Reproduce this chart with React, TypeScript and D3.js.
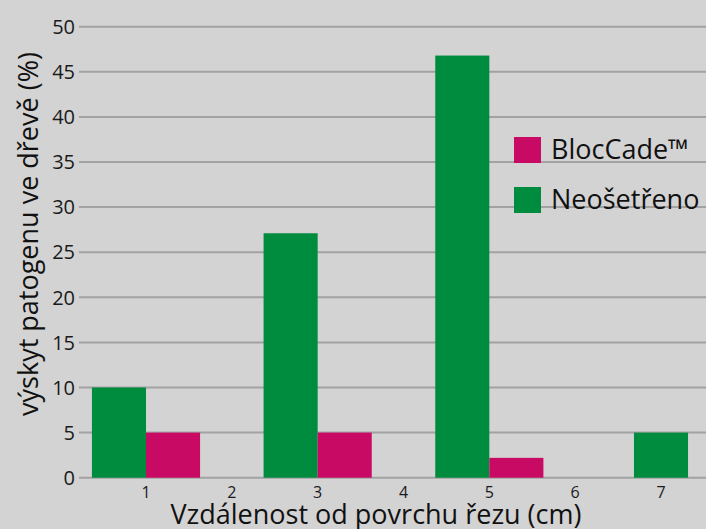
import React, { useRef, useEffect } from 'react';
import * as d3 from 'd3';

const distances = [1, 2, 3, 4, 5, 6, 7];
const blocCade = [5, 0, 5, 0, 2.2, 0, 0];
const neosetreno = [10, 0, 27.1, 0, 46.8, 0, 5];
const yTicks = [0, 5, 10, 15, 20, 25, 30, 35, 40, 45, 50];
const seriesNames = ['BlocCade™', 'Neošetřeno'];

const GREEN = '#008c3e';
const MAGENTA = '#c80a64';
const FONT = '"Open Sans", "Noto Sans", sans-serif';

const App: React.FC = () => {
  const svgRef = useRef<SVGSVGElement | null>(null);

  useEffect(() => {
    const width = 706;
    const height = 529;
    const svg = d3.select(svgRef.current);
    svg.selectAll('*').remove();
    svg.attr('width', width).attr('height', height);

    svg.append('rect').attr('width', width).attr('height', height).attr('fill', '#d3d3d3');

    const y = d3.scaleLinear().domain([0, 50]).range([477.7, 26.7]);
    const x = d3.scaleLinear().domain([1, 7]).range([146, 661]);
    const step = x(2) - x(1);
    const barW = step * 0.63;

    // gridlines + y labels
    const grid = svg.append('g');
    grid
      .selectAll('line')
      .data(yTicks)
      .enter()
      .append('line')
      .attr('x1', 79)
      .attr('x2', width)
      .attr('y1', (d) => y(d))
      .attr('y2', (d) => y(d))
      .attr('stroke', '#a2a2a2')
      .attr('stroke-width', 2);
    grid
      .selectAll('text')
      .data(yTicks)
      .enter()
      .append('text')
      .attr('x', 75)
      .attr('y', (d) => y(d))
      .attr('dy', '0.36em')
      .attr('text-anchor', 'end')
      .attr('font-family', FONT)
      .attr('font-size', 20)
      .attr('fill', '#1a1a1a')
      .text((d) => d);

    // bars: nonzero bars in each category are grouped and centred on the tick
    const rows = distances.map((d, i) => {
      const vals = [
        { v: neosetreno[i], color: GREEN },
        { v: blocCade[i], color: MAGENTA },
      ].filter((s) => s.v > 0);
      return { d, vals };
    });
    const bars: { x: number; v: number; color: string }[] = [];
    rows.forEach((r) => {
      const start = x(r.d) - (r.vals.length * barW) / 2;
      r.vals.forEach((s, j) => bars.push({ x: start + j * barW, v: s.v, color: s.color }));
    });
    svg
      .append('g')
      .selectAll('rect')
      .data(bars)
      .enter()
      .append('rect')
      .attr('x', (d) => d.x)
      .attr('y', (d) => y(d.v))
      .attr('width', barW)
      .attr('height', (d) => y(0) - y(d.v))
      .attr('fill', (d) => d.color);

    // x tick labels
    svg
      .append('g')
      .selectAll('text')
      .data(distances)
      .enter()
      .append('text')
      .attr('x', (d) => x(d))
      .attr('y', 498)
      .attr('text-anchor', 'middle')
      .attr('font-family', FONT)
      .attr('font-size', 16)
      .attr('fill', '#1a1a1a')
      .text((d) => d);

    // axis titles
    svg
      .append('text')
      .attr('x', 376)
      .attr('y', 524)
      .attr('text-anchor', 'middle')
      .attr('font-family', FONT)
      .attr('font-size', 27)
      .attr('fill', '#111')
      .text('Vzdálenost od povrchu řezu (cm)');
    svg
      .append('text')
      .attr('transform', 'translate(38,234) rotate(-90)')
      .attr('text-anchor', 'middle')
      .attr('font-family', FONT)
      .attr('font-size', 27)
      .attr('fill', '#111')
      .text('výskyt patogenu ve dřevě (%)');

    // legend
    const colors = [MAGENTA, GREEN];
    const legend = svg
      .append('g')
      .selectAll('g')
      .data(seriesNames)
      .enter()
      .append('g')
      .attr('transform', (_, i) => `translate(514, ${137 + i * 50})`);
    legend
      .append('rect')
      .attr('width', 27)
      .attr('height', 26)
      .attr('fill', (_, i) => colors[i]);
    legend
      .append('text')
      .attr('x', 37)
      .attr('y', 21.5)
      .attr('font-family', FONT)
      .attr('font-size', 27)
      .attr('fill', '#111')
      .text((d) => d);
  }, []);

  return <svg ref={svgRef} style={{ position: 'absolute', left: 0, top: 0 }}></svg>;
};

export default App;
